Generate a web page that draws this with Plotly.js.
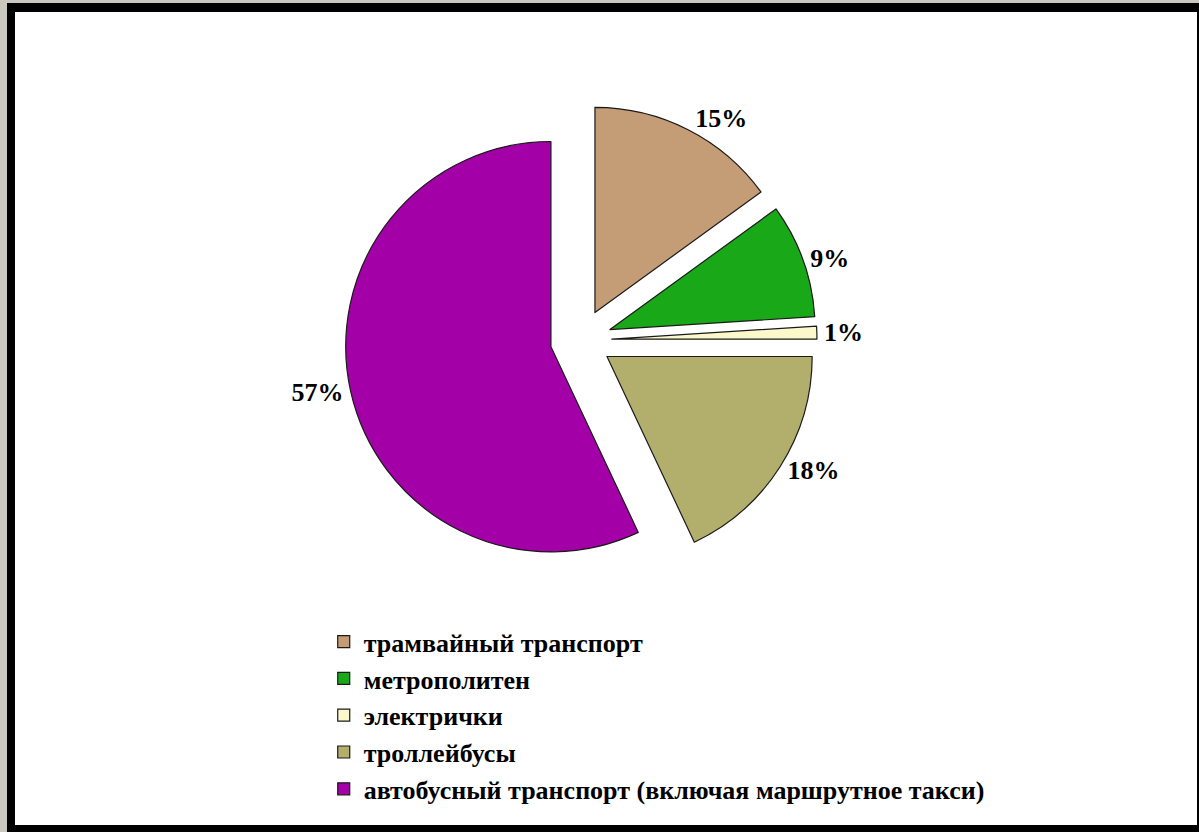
<!DOCTYPE html>
<html>
<head>
<meta charset="utf-8">
<script src="https://cdn.plot.ly/plotly-3.0.1.min.js"></script>
<style>
  html, body { margin: 0; padding: 0; width: 1199px; height: 832px; overflow: hidden; background: #cbc8bf; }
  #frame { position: absolute; left: 7px; top: 3px; width: 1192px; height: 829px; background: #000; }
  #inner { position: absolute; left: 8px; top: 9px; width: 1182px; height: 813px; background: #ffffff; }
  #chart { position: absolute; left: 0; top: 0; width: 1199px; height: 832px; }
</style>
</head>
<body>
<div id="frame"><div id="inner"></div></div>
<div id="chart"></div>
<script>
const categories = [
  "трамвайный транспорт",
  "метрополитен",
  "электрички",
  "троллейбусы",
  "автобусный транспорт (включая маршрутное такси)"
];
const shares = [15, 9, 1, 18, 57];
const sliceColors = ["#c49c76", "#18a818", "#fbf8cc", "#b2ae6c", "#a300a8"];

const trace = {
  type: "pie",
  labels: categories,
  values: shares,
  sort: false,
  direction: "clockwise",
  rotation: 0,
  pull: 0.15,
  marker: { colors: sliceColors, line: { color: "#1a1a1a", width: 1.2 } },
  textposition: "outside",
  texttemplate: "%{value}%",
  outsidetextfont: { family: "Liberation Serif", size: 26, color: "#000", weight: "bold" },
  hoverinfo: "label+percent",
  domain: { x: [0.2877, 0.6814], y: [0.3077, 0.875] }
};

const layout = {
  width: 1199,
  height: 832,
  margin: { l: 0, r: 0, t: 0, b: 0 },
  paper_bgcolor: "rgba(0,0,0,0)",
  plot_bgcolor: "rgba(0,0,0,0)",
  showlegend: true,
  legend: {
    x: 0.270, xanchor: "left",
    y: 0.257, yanchor: "top",
    bgcolor: "rgba(0,0,0,0)",
    font: { family: "Liberation Serif", size: 26, color: "#000", weight: "bold" },
    traceorder: "normal"
  }
};

Plotly.newPlot("chart", [trace], layout, { displayModeBar: false, staticPlot: true });
</script>
</body>
</html>
